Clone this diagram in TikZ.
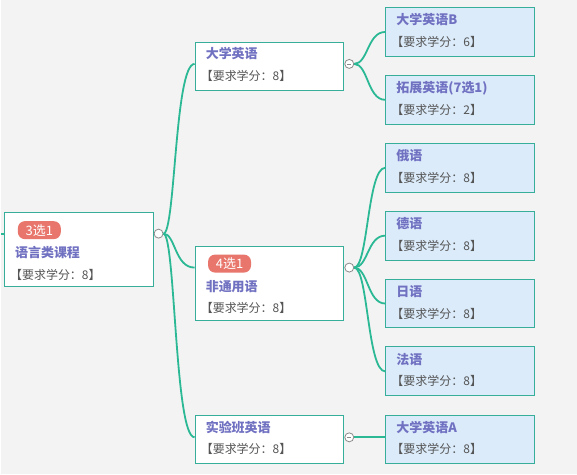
\documentclass[tikz,border=0pt]{standalone}
\usepackage{fontspec}
\setmainfont{Noto Sans CJK SC}
\usepackage{tikz}
\usetikzlibrary{arrows.meta}

\definecolor{bgcol}{HTML}{F3F3F3}
\definecolor{boxline}{HTML}{36AE9A}
\definecolor{subfill}{HTML}{DBEBFA}
\definecolor{titlecol}{HTML}{7171C2}
\definecolor{creditcol}{HTML}{555555}
\definecolor{badgecol}{HTML}{E8766C}
\definecolor{linkcol}{HTML}{2BB894}
\definecolor{togglecol}{HTML}{8A8A8A}

\tikzset{
    topic/.style={draw=boxline, fill=white, line width=1pt, minimum width=149pt, minimum height=48pt, anchor=north west, inner sep=0pt},
    subtopic/.style={topic, fill=subfill, minimum height=49pt},
    title/.style={anchor=west, inner sep=0pt, text=titlecol, font=\fontsize{13}{13}\selectfont\bfseries},
    credit/.style={anchor=west, inner sep=0pt, text=creditcol, font=\fontsize{12}{12}\selectfont},
    badge/.style={fill=badgecol, text=white, rounded corners=7pt, minimum width=43pt, minimum height=18pt, inner sep=0pt, font=\fontsize{13}{13}\selectfont},
    toggle/.style={circle, draw=togglecol, fill=white, line width=.8pt, minimum size=9pt, inner sep=0pt},
    fold/.style={toggle, path picture={\draw[togglecol, line width=.7pt] ([xshift=-2pt]path picture bounding box.center) -- ([xshift=2pt]path picture bounding box.center);}},
    branch/.style={draw=linkcol, line width=1.8pt}
}

\begin{document}
\begin{tikzpicture}[x=1pt, y=-1pt]
        \fill[bgcol] (0,0) rectangle (577,475);

        % root
        \node[topic, minimum height=74pt] at (3,212) (root) {};
        \node[badge] at (38.5,230.5) (bdg-root) {3选1};
        \node[title] at (14,253) (ttl-root) {语言类课程};
        \node[credit] at (9,275) (crd-root) {【要求学分：8】};

        % second level
        \node[topic] at (194,42) (dxyy) {};
        \node[title] at (205,54) (ttl-dxyy) {大学英语};
        \node[credit] at (200,76) (crd-dxyy) {【要求学分：8】};

        \node[topic, minimum height=74pt] at (194,246) (ftyy) {};
        \node[badge] at (229,264) (bdg-ftyy) {4选1};
        \node[title] at (205,287) (ttl-ftyy) {非通用语};
        \node[credit] at (200,308) (crd-ftyy) {【要求学分：8】};

        \node[topic] at (194,416) (syb) {};
        \node[title] at (205,428) (ttl-syb) {实验班英语};
        \node[credit] at (200,450) (crd-syb) {【要求学分：8】};

        % third level
        \node[subtopic] at (385,7) (dyb) {};
        \node[title] at (396,20) (ttl-dyb) {大学英语B};
        \node[credit] at (391,42) (crd-dyb) {【要求学分：6】};

        \node[subtopic] at (385,75) (tzyy) {};
        \node[title] at (396,88) (ttl-tzyy) {拓展英语(7选1)};
        \node[credit] at (391,110) (crd-tzyy) {【要求学分：2】};

        \node[subtopic] at (385,143) (ey) {};
        \node[title] at (396,156) (ttl-ey) {俄语};
        \node[credit] at (391,178) (crd-ey) {【要求学分：8】};

        \node[subtopic] at (385,211) (dy) {};
        \node[title] at (396,224) (ttl-dy) {德语};
        \node[credit] at (391,246) (crd-dy) {【要求学分：8】};

        \node[subtopic] at (385,279) (ry) {};
        \node[title] at (396,292) (ttl-ry) {日语};
        \node[credit] at (391,314) (crd-ry) {【要求学分：8】};

        \node[subtopic] at (385,347) (fy) {};
        \node[title] at (396,360) (ttl-fy) {法语};
        \node[credit] at (391,382) (crd-fy) {【要求学分：8】};

        \node[subtopic, minimum height=48pt] at (385,416) (dya) {};
        \node[title] at (396,428) (ttl-dya) {大学英语A};
        \node[credit] at (391,450) (crd-dya) {【要求学分：8】};

        % toggles
        \node[toggle, anchor=west] at ([yshift=-22pt]root.north east) (tg-root) {};
        \node[fold, anchor=west] at ([yshift=-22pt]dxyy.north east) (tg-dxyy) {};
        \node[toggle, anchor=west] at ([yshift=-22pt]ftyy.north east) (tg-ftyy) {};
        \node[fold, anchor=west] at ([yshift=-22pt]syb.north east) (tg-syb) {};

        % branches
        \coordinate (in) at (0,234);
        \draw[branch] (in) -- ([yshift=-22pt]root.north west);
        \draw[branch] (tg-root.east) .. controls +(12,0) and +(-20,0) .. ([yshift=-22pt]dxyy.north west);
        \draw[branch] (tg-root.east) .. controls +(12,0) and +(-20,0) .. ([yshift=-22pt]ftyy.north west);
        \draw[branch] (tg-root.east) .. controls +(12,0) and +(-20,0) .. ([yshift=-22pt]syb.north west);
        \draw[branch] (tg-dxyy.east) .. controls +(14,0) and +(-18,0) .. (dyb.west);
        \draw[branch] (tg-dxyy.east) .. controls +(14,0) and +(-18,0) .. (tzyy.west);
        \draw[branch] (tg-ftyy.east) .. controls +(14,0) and +(-18,0) .. (ey.west);
        \draw[branch] (tg-ftyy.east) .. controls +(14,0) and +(-18,0) .. (dy.west);
        \draw[branch] (tg-ftyy.east) .. controls +(14,0) and +(-18,0) .. (ry.west);
        \draw[branch] (tg-ftyy.east) .. controls +(14,0) and +(-18,0) .. (fy.west);
        \draw[branch] (tg-syb.east) -- (tg-syb.east -| dya.west);
    \end{tikzpicture}
\end{document}
